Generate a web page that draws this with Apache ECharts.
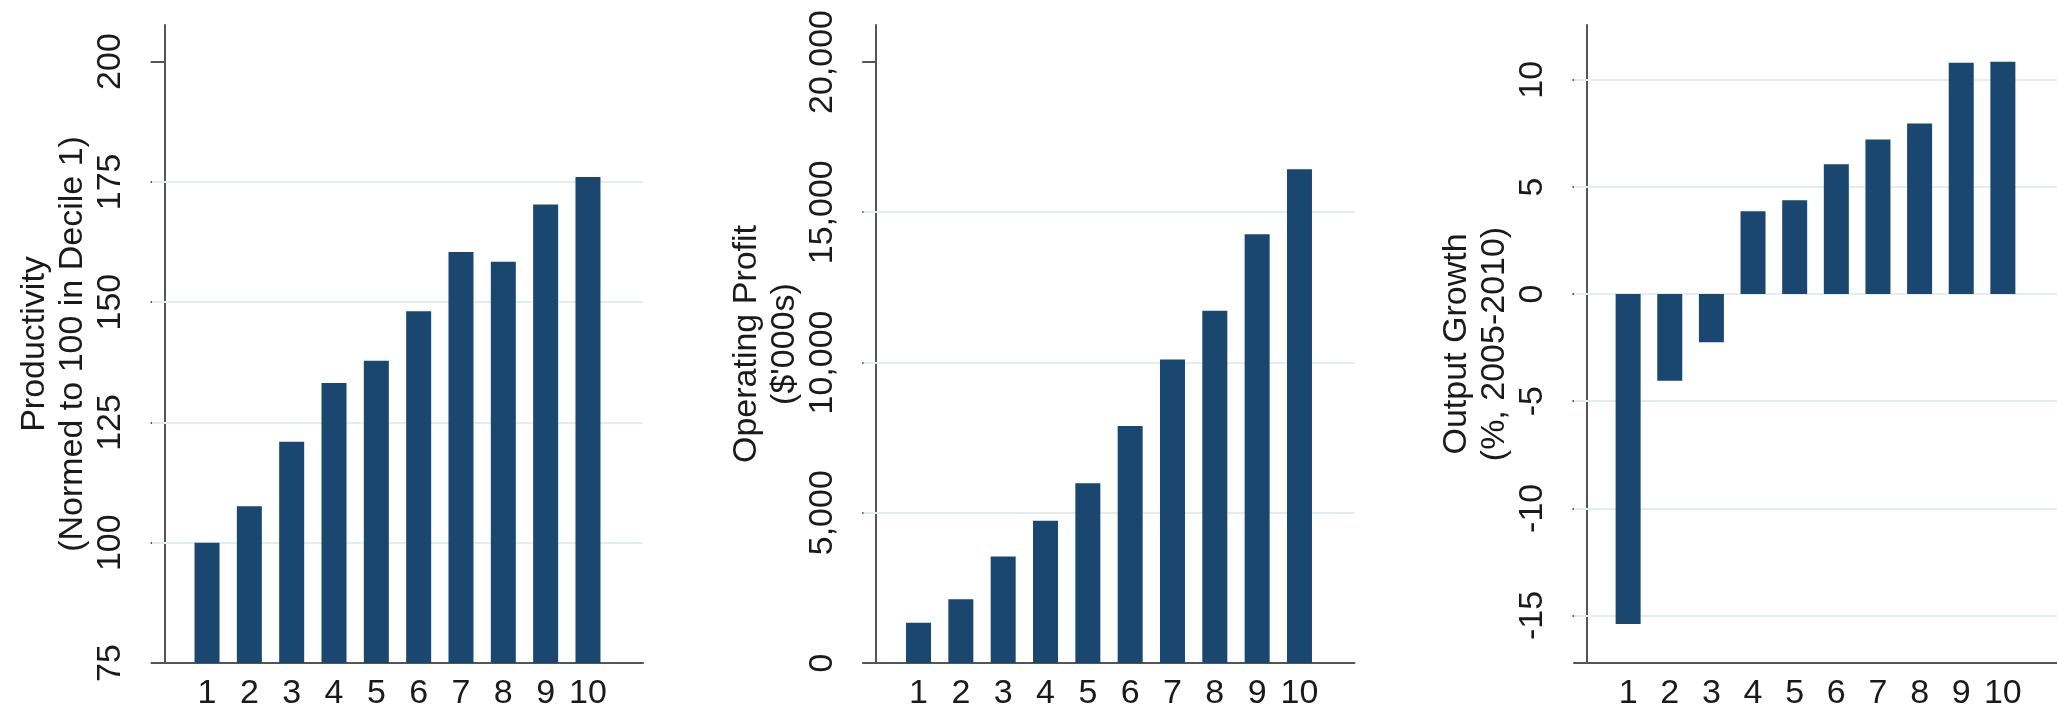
<!DOCTYPE html>
<html>
<head>
<meta charset="utf-8">
<script src="https://cdn.jsdelivr.net/npm/echarts@6/dist/echarts.min.js"></script>
<style>
  html, body { margin: 0; padding: 0; background: #ffffff; }
  #chart { width: 2057px; height: 711px; }
</style>
</head>
<body>
<div id="chart"></div>
<script>
// Firm deciles shown along each horizontal axis
const deciles = [1, 2, 3, 4, 5, 6, 7, 8, 9, 10];

// Series values by decile
const productivity = [100, 107.6, 121.0, 133.2, 137.8, 148.1, 160.4, 158.4, 170.3, 176.0];
const operatingProfit = [1340, 2120, 3540, 4730, 5980, 7890, 10100, 11720, 14270, 16430];
const outputGrowth = [-15.4, -4.05, -2.25, 3.87, 4.38, 6.06, 7.22, 7.96, 10.8, 10.84];

// Tick labels on each vertical axis
const productivityTicks = [75, 100, 125, 150, 175, 200];
const profitTicks = [0, 5000, 10000, 15000, 20000];
const growthTicks = [-15, -10, -5, 0, 5, 10];

// Values that carry a horizontal grid line
const productivityGridLines = [100, 125, 150, 175];
const profitGridLines = [5000, 10000, 15000];
const growthGridLines = [-15, -10, -5, 0, 5, 10];

// Axis titles
const productivityTitle = 'Productivity\n(Normed to 100 in Decile 1)';
const profitTitle = 'Operating Profit\n($\'000s)';
const growthTitle = 'Output Growth\n(%, 2005-2010)';

const FONT = "'Liberation Sans', Arial, Helvetica, sans-serif";
const TEXT = '#1a1a1a';
const AXIS = '#555555';
const BAR = '#1a476f';
const GRIDLINE = '#e4edf0';

const panels = [
  { left: 152,  values: productivity,    ticks: productivityTicks, gridLines: productivityGridLines, title: productivityTitle, min: 75,     max: 207.6 },
  { left: 863.5, values: operatingProfit, ticks: profitTicks,       gridLines: profitGridLines,       title: profitTitle,       min: 0,      max: 21230 },
  { left: 1574, values: outputGrowth,    ticks: growthTicks,       gridLines: growthGridLines,       title: growthTitle,       min: -17.22, max: 12.56 }
];

const fmt = v => Number(v).toLocaleString('en-US');

const grid = [], xAxis = [], yAxis = [], series = [];
panels.forEach((p, i) => {
  grid.push({ left: p.left, top: 25, width: 491, height: 641, containLabel: false });
  xAxis.push({
    type: 'value', gridIndex: i, min: -0.3, max: 11.3,
    axisLine: { show: true, onZero: false, lineStyle: { color: AXIS, width: 2 } },
    axisTick: { show: false },
    splitLine: { show: false },
    axisLabel: {
      customValues: deciles, margin: 14,
      color: TEXT, fontFamily: FONT, fontSize: 34,
      formatter: v => String(v)
    }
  });
  yAxis.push({
    type: 'value', gridIndex: i, min: p.min, max: p.max,
    name: p.title, nameLocation: 'middle', nameRotate: 90, nameGap: 60,
    nameTextStyle: { color: TEXT, fontFamily: FONT, fontSize: 34, lineHeight: 38, align: 'center' },
    axisLine: { show: true, lineStyle: { color: AXIS, width: 2 } },
    axisTick: { show: true, customValues: p.ticks, length: 14, lineStyle: { color: AXIS, width: 2 } },
    splitLine: { show: false },
    axisLabel: {
      customValues: p.ticks, rotate: 90, margin: 24,
      color: TEXT, fontFamily: FONT, fontSize: 34,
      formatter: fmt
    }
  });
  series.push({
    type: 'bar', xAxisIndex: i, yAxisIndex: i,
    barWidth: 25, z: 3,
    itemStyle: { color: BAR },
    data: deciles.map((d, k) => [d, p.values[k]]),
    animation: false,
    markLine: {
      silent: true, symbol: ['none', 'none'], z: 1,
      label: { show: false },
      lineStyle: { color: GRIDLINE, width: 2, type: 'solid' },
      emphasis: { disabled: true },
      animation: false,
      data: p.gridLines.map(v => ({ yAxis: v }))
    }
  });
});

const chart = echarts.init(document.getElementById('chart'), null, { renderer: 'canvas' });
chart.setOption({
  backgroundColor: '#ffffff',
  animation: false,
  grid, xAxis, yAxis, series
});
</script>
</body>
</html>
